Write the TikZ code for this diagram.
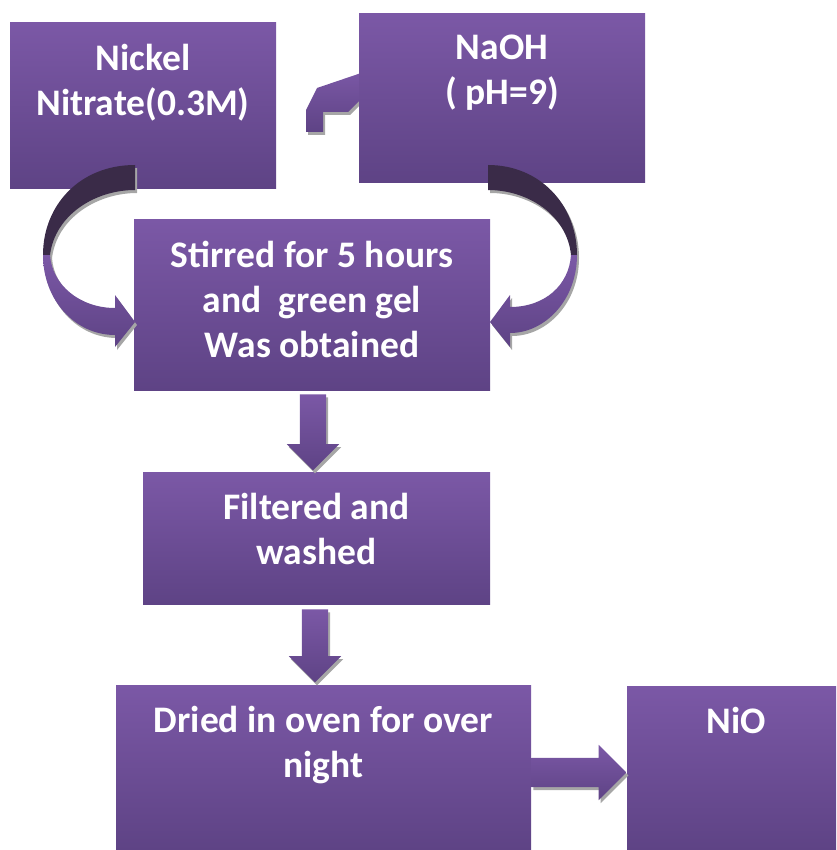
\documentclass[tikz,border=0pt]{standalone}
\usepackage{fontspec}
\setmainfont{Carlito}
\usetikzlibrary{shapes.arrows,calc}

\definecolor{boxtop}{HTML}{7B58A6}
\definecolor{boxbottom}{HTML}{5E4385}
\definecolor{ribbondark}{HTML}{3A2B48}
\definecolor{arrowshadow}{HTML}{A6A6A6}

\begin{document}
\begin{tikzpicture}[
    x=1pt, y=-1pt,
    stepbox/.style={
        top color=boxtop,
        bottom color=boxbottom,
        inner sep=0pt
    },
    steptext/.style={
        anchor=north,
        align=center,
        text=white,
        font=\fontsize{37.5}{45}\selectfont\bfseries,
        inner sep=0pt
    },
    shadowed/.style={
        preaction={fill=arrowshadow, transform canvas={shift={(2pt,-3pt)}}}
    },
    fatarrow/.style={
        single arrow,
        anchor=tail,
        top color=boxtop,
        bottom color=boxbottom,
        shadowed,
        inner sep=13pt,
        single arrow head extend=13pt
    }
]
\useasboundingbox (0,0) rectangle (836,850);

% ------------------------------------------------
% Elbow arrow (partly behind the NaOH box)
% ------------------------------------------------

\path[top color=boxtop, bottom color=boxbottom, shadowed]
    (370,70) -- (317,88) -- (306,110) -- (306,132) -- (323,132)
    -- (323,112) -- (348,112) -- (370,90) -- cycle;

% ------------------------------------------------
% Steps
% ------------------------------------------------

\node[stepbox, minimum width=266pt, minimum height=166pt] (nitrate) at (143,106) {};
\node[stepbox, minimum width=286pt, minimum height=169pt] (naoh) at (502,98.5) {};
\node[stepbox, minimum width=356pt, minimum height=170pt] (stirred) at (312,305) {};
\node[stepbox, minimum width=347pt, minimum height=132pt] (filtered) at (316.5,538) {};
\node[stepbox, minimum width=415pt, minimum height=165pt] (dried) at (323.5,767.5) {};
\node[stepbox, minimum width=209pt, minimum height=164pt] (nio) at (731.5,768) {};

\node[steptext] (nitratetext) at ([yshift=-21pt]nitrate.north)
    {Nickel\\Nitrate(0.3M)};
\node[steptext] (naohtext) at ([yshift=-21pt]naoh.north)
    {NaOH\\( pH=9)};
\node[steptext] (stirredtext) at ([yshift=-21pt]stirred.north)
    {Stirred for 5 hours\\and\ \ green gel\\Was obtained};
\node[steptext] (filteredtext) at ([yshift=-21pt]filtered.north)
    {Filtered and\\washed};
\node[steptext] (driedtext) at ([yshift=-21pt]dried.north)
    {Dried in oven for over\\night};
\node[steptext] (niotext) at ([xshift=5pt,yshift=-21pt]nio.north)
    {NiO};

% ------------------------------------------------
% Curved arrows into the stirring step
% ------------------------------------------------

% from nickel nitrate
\fill[ribbondark, shadowed]
    (135,165) .. controls (80,165) and (43,205) .. (43,255)
    -- (50,255) .. controls (55,215) and (95,190) .. (135,190) -- cycle;
\path[top color=boxtop, bottom color=boxbottom, shadowed]
    (43,255) .. controls (43,300) and (75,335) .. (115,335)
    -- (115,347) -- (135,322) -- (115,295) -- (115,308)
    .. controls (80,308) and (52,285) .. (50,255) -- cycle;

% from NaOH
\fill[ribbondark, shadowed]
    (488,165) .. controls (540,165) and (577,205) .. (577,255)
    -- (571,255) .. controls (567,215) and (528,190) .. (488,190) -- cycle;
\path[top color=boxtop, bottom color=boxbottom, shadowed]
    (577,255) .. controls (577,300) and (545,333) .. (510,333)
    -- (510,347) -- (490,322) -- (510,295) -- (510,307)
    .. controls (545,307) and (569,285) .. (571,255) -- cycle;

% ------------------------------------------------
% Straight arrows
% ------------------------------------------------

\node[fatarrow, shape border rotate=270, minimum height=76pt, minimum width=52pt]
    (stirtofilter) at ([xshift=1pt,yshift=-4pt]stirred.south) {};
\node[fatarrow, shape border rotate=270, minimum height=73pt, minimum width=52pt]
    (filtertodry) at ([xshift=-1.5pt,yshift=-5pt]filtered.south) {};
\node[fatarrow, minimum height=95pt, minimum width=53pt, inner sep=14.5pt]
    (drytonio) at ([yshift=-5pt]dried.east) {};

\end{tikzpicture}
\end{document}
